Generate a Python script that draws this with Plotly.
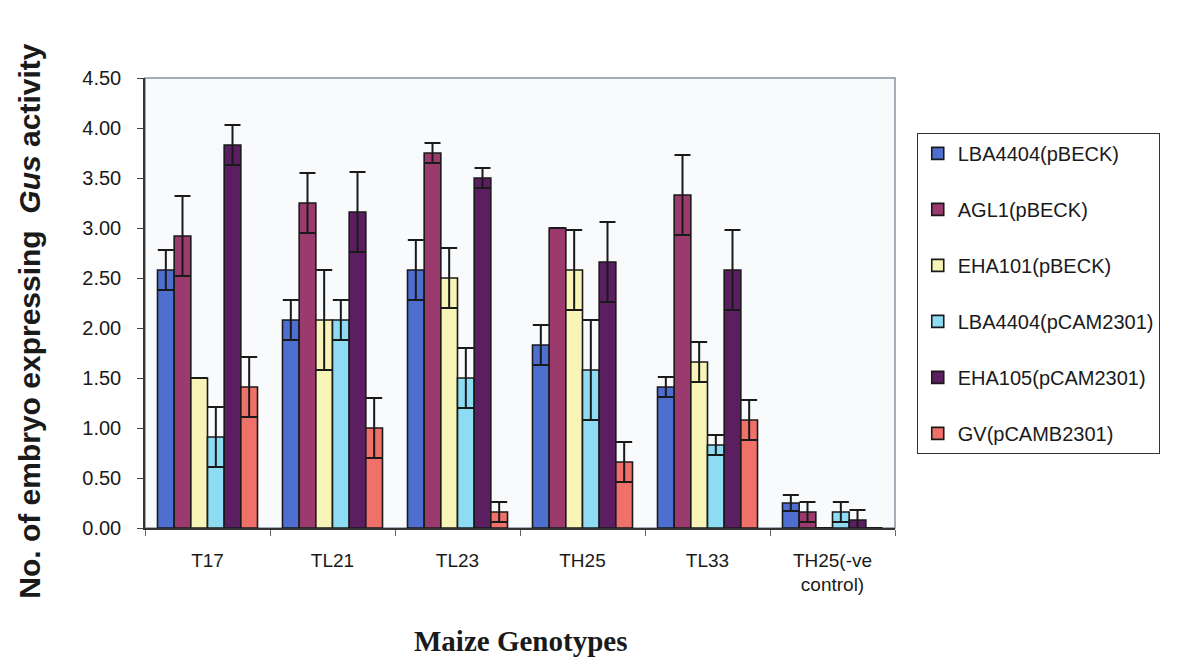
import plotly.graph_objects as go

genotypes = ["T17", "TL21", "TL23", "TH25", "TL33", "TH25(-ve<br>control)"]

series_names = ["LBA4404(pBECK)", "AGL1(pBECK)", "EHA101(pBECK)",
                "LBA4404(pCAM2301)", "EHA105(pCAM2301)", "GV(pCAMB2301)"]

lba_pbeck = [2.58, 2.08, 2.58, 1.83, 1.41, 0.25]
lba_pbeck_err = [0.2, 0.2, 0.3, 0.2, 0.1, 0.08]

agl1_pbeck = [2.92, 3.25, 3.75, 3.00, 3.33, 0.16]
agl1_pbeck_err = [0.4, 0.3, 0.1, 0.0, 0.4, 0.1]

eha101_pbeck = [1.50, 2.08, 2.50, 2.58, 1.66, 0.0]
eha101_pbeck_err = [0.0, 0.5, 0.3, 0.4, 0.2, 0.0]

lba_pcam = [0.91, 2.08, 1.50, 1.58, 0.83, 0.16]
lba_pcam_err = [0.3, 0.2, 0.3, 0.5, 0.1, 0.1]

eha105_pcam = [3.83, 3.16, 3.50, 2.66, 2.58, 0.08]
eha105_pcam_err = [0.2, 0.4, 0.1, 0.4, 0.4, 0.1]

gv_pcamb = [1.41, 1.00, 0.16, 0.66, 1.08, 0.0]
gv_pcamb_err = [0.3, 0.3, 0.1, 0.2, 0.2, 0.0]

values = [lba_pbeck, agl1_pbeck, eha101_pbeck, lba_pcam, eha105_pcam, gv_pcamb]
errors = [lba_pbeck_err, agl1_pbeck_err, eha101_pbeck_err, lba_pcam_err, eha105_pcam_err, gv_pcamb_err]
colors = ["#4f6fd0", "#9b3b6d", "#f8f4b8", "#8edcf4", "#5b1e60", "#f0706a"]

fig = go.Figure()
for name, vals, errs, col in zip(series_names, values, errors, colors):
    fig.add_trace(go.Bar(
        x=genotypes, y=vals, name=name, legendgroup=name,
        marker=dict(color=col, line=dict(color="#1a1a1a", width=1.6)),
        error_y=dict(type="data", array=errs, symmetric=True, visible=True,
                     color="#1a1a1a", thickness=2, width=8),
    ))

fig.update_layout(
    width=1172, height=655,
    margin=dict(l=137, r=285, t=70, b=135),
    paper_bgcolor="white",
    plot_bgcolor="#f8fafc",
    barmode="group",
    bargap=0.2,
    bargroupgap=0,
    font=dict(family="Arial, Liberation Sans, sans-serif", size=19, color="#1a1a1a"),
    showlegend=True,
    legend=dict(
        x=1.029, y=0.878, xanchor="left", yanchor="top",
        bordercolor="#333333", borderwidth=1, bgcolor="white",
        font=dict(size=20, family="Arial, Liberation Sans, sans-serif", color="#1a1a1a"),
        traceorder="grouped", tracegroupgap=27,
    ),
    xaxis=dict(
        type="category",
        showline=True, linecolor="#333333", linewidth=1.5,
        ticks="outside", tickson="boundaries", ticklen=6, tickcolor="#666666",
        showgrid=False, ticklabelstandoff=14,
        tickfont=dict(size=19),
    ),
    yaxis=dict(
        range=[0, 4.5], dtick=0.5, tickformat=".2f",
        showline=True, linecolor="#333333", linewidth=1.5,
        ticks="outside", ticklen=6, tickcolor="#444444",
        showgrid=False, zeroline=False, ticklabelstandoff=12,
        tickfont=dict(size=20),
    ),
    shapes=[dict(type="rect", xref="paper", yref="paper", x0=0, y0=0, x1=1, y1=1,
                 line=dict(color="#8a93a0", width=1.5), layer="below")],
    annotations=[
        dict(text="<b>No. of embryo expressing  <i>Gus</i> activity</b>",
             xref="paper", yref="paper", x=-0.155, y=0.46, xanchor="center", textangle=-90,
             showarrow=False, font=dict(size=30, family="Arial, Liberation Sans, sans-serif")),
        dict(text="<b>Maize Genotypes</b>",
             xref="paper", yref="paper", x=0.5, y=-0.251, yanchor="middle",
             showarrow=False, font=dict(size=29, family="Liberation Serif, Times New Roman, serif")),
    ],
)

fig.write_html("out.html")
